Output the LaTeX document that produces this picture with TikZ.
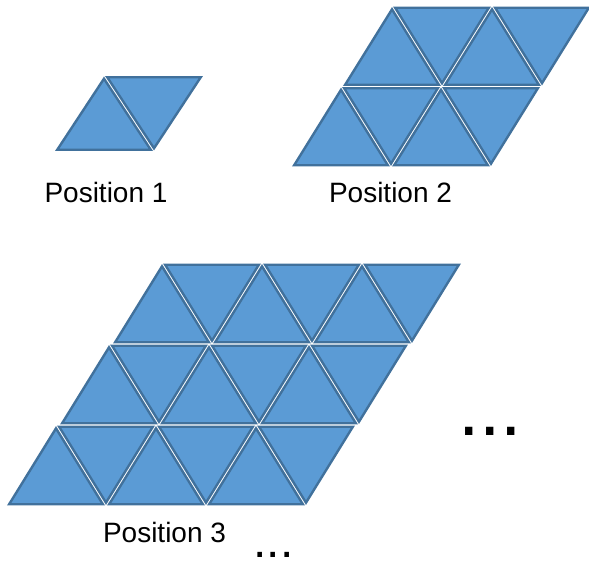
\documentclass[tikz,border=0pt]{standalone}
\usepackage{fontspec}
\setmainfont{Liberation Sans}
\usetikzlibrary{positioning}
\definecolor{tilefill}{HTML}{5B9BD5}
\definecolor{tileline}{HTML}{41719C}
\tikzset{
    tile/.style={fill=tilefill, draw=tileline, line width=2.4pt, line join=miter},
    caption/.style={font=\fontsize{28}{30}\selectfont, inner sep=0pt, anchor=base},
    dotsnode/.style={inner sep=0pt, anchor=base west},
}
\newcommand{\tilegap}{1.75}
% one triangle: base midpoint (#1,#2), height #3, #4 = 1 up / -1 down
\newcommand{\tritile}[4]{%
    \pgfmathsetmacro{\inr}{100*(#3)/(100+2*sqrt(2500+(#3)*(#3)))}%
    \pgfmathsetmacro{\fac}{(\inr-\tilegap)/\inr}%
    \pgfmathsetmacro{\ri}{(#4)*\inr}%
    \pgfmathsetmacro{\ya}{-1*(\ri)}%
    \pgfmathsetmacro{\yc}{(#4)*(#3)-(\ri)}%
    \path[tile, shift={(#1,#2+\ri)}, scale=\fac] (-50,\ya) -- (50,\ya) -- (0,\yc) -- cycle;
}
% n rows of n up + n down tiles: lower left (#1,#2), row height #3, row shift #4, n = #5
\newcommand{\tiling}[5]{%
    \foreach \r in {1,...,#5} {
        \foreach \k in {1,...,#5} {
            \pgfmathsetmacro{\bx}{#1+(\r-1)*(#4)+(\k-1)*100}
            \pgfmathsetmacro{\by}{#2+(\r-1)*(#3)}
            \tritile{\bx+50}{\by}{#3}{1}
            \tritile{\bx+100}{\by+#3}{#3}{-1}
        }
    }
}

\begin{document}
\begin{tikzpicture}[x=1pt, y=1pt]
    \useasboundingbox (0,0) rectangle (589,562);
    % positions 1, 2, 3
    \tiling{54}{410.5}{76}{50}{1}
    \tiling{291}{395}{80.5}{51}{2}
    \tiling{6}{56}{81}{53}{3}
    \node[caption] (pos1) at (106,359) {Position 1};
    \node[caption] (pos2) at (390.5,359) {Position 2};
    \node[caption] (pos3) at (164.5,19) {Position 3};
    \node[dotsnode, font=\fontsize{48}{48}\selectfont] (more3) at (253.4,4) {...};
    \node[dotsnode, font=\fontsize{77}{77}\selectfont] (more) at (457.8,126) {...};
\end{tikzpicture}
\end{document}
